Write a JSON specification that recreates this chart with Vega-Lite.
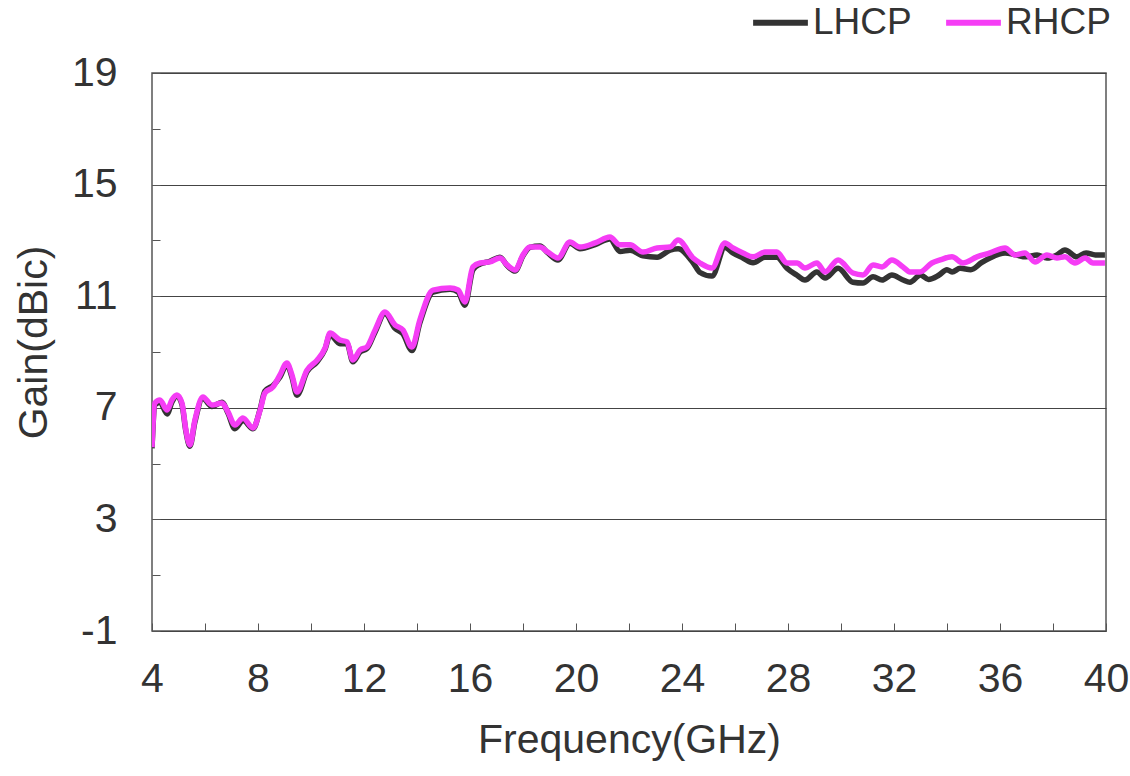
{
  "$schema": "https://vega.github.io/schema/vega-lite/v6.json",
  "width": 954,
  "height": 558,
  "autosize": {"type": "none"},
  "padding": {"left": 152, "top": 73, "right": 24, "bottom": 145},
  "background": "white",
  "config": {
    "font": "Liberation Sans",
    "view": {"stroke": "#555555", "strokeWidth": 1.5}
  },
  "data": {
    "values": [
      {"f": 4.0, "g": 5.55, "s": "LHCP"}, {"f": 4.11, "g": 7.1, "s": "LHCP"}, {"f": 4.3, "g": 7.2, "s": "LHCP"}, {"f": 4.57, "g": 6.78, "s": "LHCP"},
      {"f": 4.75, "g": 7.2, "s": "LHCP"}, {"f": 4.94, "g": 7.42, "s": "LHCP"}, {"f": 5.13, "g": 7.12, "s": "LHCP"}, {"f": 5.28, "g": 6.15, "s": "LHCP"},
      {"f": 5.43, "g": 5.62, "s": "LHCP"}, {"f": 5.62, "g": 6.5, "s": "LHCP"}, {"f": 5.92, "g": 7.33, "s": "LHCP"}, {"f": 6.26, "g": 7.05, "s": "LHCP"},
      {"f": 6.64, "g": 7.2, "s": "LHCP"}, {"f": 6.87, "g": 6.8, "s": "LHCP"}, {"f": 7.13, "g": 6.25, "s": "LHCP"}, {"f": 7.43, "g": 6.55, "s": "LHCP"},
      {"f": 7.81, "g": 6.25, "s": "LHCP"}, {"f": 8.08, "g": 6.95, "s": "LHCP"}, {"f": 8.26, "g": 7.6, "s": "LHCP"}, {"f": 8.57, "g": 7.8, "s": "LHCP"},
      {"f": 8.83, "g": 8.1, "s": "LHCP"}, {"f": 9.09, "g": 8.55, "s": "LHCP"}, {"f": 9.28, "g": 8.1, "s": "LHCP"}, {"f": 9.47, "g": 7.45, "s": "LHCP"},
      {"f": 9.85, "g": 8.3, "s": "LHCP"}, {"f": 10.23, "g": 8.65, "s": "LHCP"}, {"f": 10.53, "g": 9.1, "s": "LHCP"}, {"f": 10.72, "g": 9.62, "s": "LHCP"},
      {"f": 11.09, "g": 9.3, "s": "LHCP"}, {"f": 11.36, "g": 9.3, "s": "LHCP"}, {"f": 11.58, "g": 8.65, "s": "LHCP"}, {"f": 11.85, "g": 9.0, "s": "LHCP"},
      {"f": 12.11, "g": 9.12, "s": "LHCP"}, {"f": 12.42, "g": 9.72, "s": "LHCP"}, {"f": 12.79, "g": 10.38, "s": "LHCP"}, {"f": 13.17, "g": 9.85, "s": "LHCP"},
      {"f": 13.47, "g": 9.65, "s": "LHCP"}, {"f": 13.81, "g": 9.05, "s": "LHCP"}, {"f": 14.11, "g": 10.05, "s": "LHCP"}, {"f": 14.6, "g": 11.15, "s": "LHCP"},
      {"f": 15.25, "g": 11.25, "s": "LHCP"}, {"f": 15.55, "g": 11.15, "s": "LHCP"}, {"f": 15.81, "g": 10.68, "s": "LHCP"}, {"f": 16.11, "g": 11.95, "s": "LHCP"},
      {"f": 16.38, "g": 12.15, "s": "LHCP"}, {"f": 16.75, "g": 12.25, "s": "LHCP"}, {"f": 17.13, "g": 12.4, "s": "LHCP"}, {"f": 17.4, "g": 12.1, "s": "LHCP"},
      {"f": 17.7, "g": 11.9, "s": "LHCP"}, {"f": 18.0, "g": 12.45, "s": "LHCP"}, {"f": 18.26, "g": 12.75, "s": "LHCP"}, {"f": 18.64, "g": 12.8, "s": "LHCP"},
      {"f": 18.94, "g": 12.55, "s": "LHCP"}, {"f": 19.32, "g": 12.3, "s": "LHCP"}, {"f": 19.77, "g": 12.9, "s": "LHCP"}, {"f": 20.15, "g": 12.7, "s": "LHCP"},
      {"f": 20.72, "g": 12.85, "s": "LHCP"}, {"f": 21.28, "g": 13.05, "s": "LHCP"}, {"f": 21.66, "g": 12.6, "s": "LHCP"}, {"f": 22.04, "g": 12.65, "s": "LHCP"},
      {"f": 22.53, "g": 12.45, "s": "LHCP"}, {"f": 23.06, "g": 12.4, "s": "LHCP"}, {"f": 23.55, "g": 12.65, "s": "LHCP"}, {"f": 23.85, "g": 12.7, "s": "LHCP"},
      {"f": 24.42, "g": 12.2, "s": "LHCP"}, {"f": 24.68, "g": 11.85, "s": "LHCP"}, {"f": 25.13, "g": 11.72, "s": "LHCP"}, {"f": 25.62, "g": 12.75, "s": "LHCP"},
      {"f": 25.92, "g": 12.55, "s": "LHCP"}, {"f": 26.3, "g": 12.37, "s": "LHCP"}, {"f": 26.68, "g": 12.2, "s": "LHCP"}, {"f": 27.13, "g": 12.4, "s": "LHCP"},
      {"f": 27.58, "g": 12.4, "s": "LHCP"}, {"f": 27.96, "g": 12.0, "s": "LHCP"}, {"f": 28.34, "g": 11.75, "s": "LHCP"}, {"f": 28.64, "g": 11.58, "s": "LHCP"},
      {"f": 29.09, "g": 11.87, "s": "LHCP"}, {"f": 29.4, "g": 11.65, "s": "LHCP"}, {"f": 29.89, "g": 12.0, "s": "LHCP"}, {"f": 30.45, "g": 11.5, "s": "LHCP"},
      {"f": 30.83, "g": 11.47, "s": "LHCP"}, {"f": 31.21, "g": 11.7, "s": "LHCP"}, {"f": 31.55, "g": 11.58, "s": "LHCP"}, {"f": 31.92, "g": 11.76, "s": "LHCP"},
      {"f": 32.34, "g": 11.58, "s": "LHCP"}, {"f": 32.6, "g": 11.5, "s": "LHCP"}, {"f": 33.0, "g": 11.76, "s": "LHCP"}, {"f": 33.3, "g": 11.6, "s": "LHCP"},
      {"f": 33.7, "g": 11.76, "s": "LHCP"}, {"f": 34.0, "g": 11.95, "s": "LHCP"}, {"f": 34.19, "g": 11.87, "s": "LHCP"}, {"f": 34.5, "g": 12.0, "s": "LHCP"},
      {"f": 34.9, "g": 11.95, "s": "LHCP"}, {"f": 35.3, "g": 12.2, "s": "LHCP"}, {"f": 35.62, "g": 12.37, "s": "LHCP"}, {"f": 36.19, "g": 12.55, "s": "LHCP"},
      {"f": 36.6, "g": 12.48, "s": "LHCP"}, {"f": 36.98, "g": 12.41, "s": "LHCP"}, {"f": 37.4, "g": 12.48, "s": "LHCP"}, {"f": 37.77, "g": 12.37, "s": "LHCP"},
      {"f": 38.15, "g": 12.48, "s": "LHCP"}, {"f": 38.45, "g": 12.66, "s": "LHCP"}, {"f": 38.9, "g": 12.41, "s": "LHCP"}, {"f": 39.25, "g": 12.55, "s": "LHCP"},
      {"f": 39.6, "g": 12.48, "s": "LHCP"}, {"f": 39.96, "g": 12.48, "s": "LHCP"},

      {"f": 4.0, "g": 5.59, "s": "RHCP"}, {"f": 4.11, "g": 7.17, "s": "RHCP"}, {"f": 4.3, "g": 7.28, "s": "RHCP"}, {"f": 4.57, "g": 6.92, "s": "RHCP"},
      {"f": 4.75, "g": 7.28, "s": "RHCP"}, {"f": 4.94, "g": 7.46, "s": "RHCP"}, {"f": 5.13, "g": 7.17, "s": "RHCP"}, {"f": 5.28, "g": 6.2, "s": "RHCP"},
      {"f": 5.43, "g": 5.67, "s": "RHCP"}, {"f": 5.62, "g": 6.56, "s": "RHCP"}, {"f": 5.92, "g": 7.39, "s": "RHCP"}, {"f": 6.26, "g": 7.1, "s": "RHCP"},
      {"f": 6.64, "g": 7.17, "s": "RHCP"}, {"f": 6.87, "g": 6.85, "s": "RHCP"}, {"f": 7.13, "g": 6.38, "s": "RHCP"}, {"f": 7.43, "g": 6.63, "s": "RHCP"},
      {"f": 7.81, "g": 6.28, "s": "RHCP"}, {"f": 8.08, "g": 6.92, "s": "RHCP"}, {"f": 8.26, "g": 7.53, "s": "RHCP"}, {"f": 8.57, "g": 7.75, "s": "RHCP"},
      {"f": 8.83, "g": 8.18, "s": "RHCP"}, {"f": 9.09, "g": 8.61, "s": "RHCP"}, {"f": 9.28, "g": 8.18, "s": "RHCP"}, {"f": 9.47, "g": 7.57, "s": "RHCP"},
      {"f": 9.85, "g": 8.35, "s": "RHCP"}, {"f": 10.23, "g": 8.71, "s": "RHCP"}, {"f": 10.53, "g": 9.14, "s": "RHCP"}, {"f": 10.72, "g": 9.68, "s": "RHCP"},
      {"f": 11.09, "g": 9.43, "s": "RHCP"}, {"f": 11.36, "g": 9.36, "s": "RHCP"}, {"f": 11.58, "g": 8.71, "s": "RHCP"}, {"f": 11.85, "g": 9.07, "s": "RHCP"},
      {"f": 12.11, "g": 9.18, "s": "RHCP"}, {"f": 12.42, "g": 9.79, "s": "RHCP"}, {"f": 12.79, "g": 10.43, "s": "RHCP"}, {"f": 13.17, "g": 9.97, "s": "RHCP"},
      {"f": 13.47, "g": 9.79, "s": "RHCP"}, {"f": 13.81, "g": 9.18, "s": "RHCP"}, {"f": 14.11, "g": 10.15, "s": "RHCP"}, {"f": 14.6, "g": 11.22, "s": "RHCP"},
      {"f": 15.25, "g": 11.29, "s": "RHCP"}, {"f": 15.55, "g": 11.22, "s": "RHCP"}, {"f": 15.81, "g": 10.79, "s": "RHCP"}, {"f": 16.11, "g": 12.05, "s": "RHCP"},
      {"f": 16.38, "g": 12.19, "s": "RHCP"}, {"f": 16.75, "g": 12.23, "s": "RHCP"}, {"f": 17.13, "g": 12.37, "s": "RHCP"}, {"f": 17.4, "g": 12.12, "s": "RHCP"},
      {"f": 17.7, "g": 11.94, "s": "RHCP"}, {"f": 18.0, "g": 12.48, "s": "RHCP"}, {"f": 18.26, "g": 12.76, "s": "RHCP"}, {"f": 18.64, "g": 12.76, "s": "RHCP"},
      {"f": 18.94, "g": 12.58, "s": "RHCP"}, {"f": 19.32, "g": 12.37, "s": "RHCP"}, {"f": 19.77, "g": 12.94, "s": "RHCP"}, {"f": 20.15, "g": 12.76, "s": "RHCP"},
      {"f": 20.72, "g": 12.91, "s": "RHCP"}, {"f": 21.28, "g": 13.12, "s": "RHCP"}, {"f": 21.66, "g": 12.84, "s": "RHCP"}, {"f": 22.04, "g": 12.84, "s": "RHCP"},
      {"f": 22.53, "g": 12.58, "s": "RHCP"}, {"f": 23.06, "g": 12.73, "s": "RHCP"}, {"f": 23.55, "g": 12.76, "s": "RHCP"}, {"f": 23.85, "g": 13.01, "s": "RHCP"},
      {"f": 24.42, "g": 12.37, "s": "RHCP"}, {"f": 24.68, "g": 12.19, "s": "RHCP"}, {"f": 25.13, "g": 12.01, "s": "RHCP"}, {"f": 25.62, "g": 12.91, "s": "RHCP"},
      {"f": 25.92, "g": 12.73, "s": "RHCP"}, {"f": 26.3, "g": 12.55, "s": "RHCP"}, {"f": 26.68, "g": 12.41, "s": "RHCP"}, {"f": 27.13, "g": 12.58, "s": "RHCP"},
      {"f": 27.58, "g": 12.58, "s": "RHCP"}, {"f": 27.96, "g": 12.19, "s": "RHCP"}, {"f": 28.34, "g": 12.19, "s": "RHCP"}, {"f": 28.64, "g": 12.01, "s": "RHCP"},
      {"f": 29.09, "g": 12.19, "s": "RHCP"}, {"f": 29.4, "g": 11.87, "s": "RHCP"}, {"f": 29.89, "g": 12.3, "s": "RHCP"}, {"f": 30.45, "g": 11.83, "s": "RHCP"},
      {"f": 30.83, "g": 11.76, "s": "RHCP"}, {"f": 31.21, "g": 12.12, "s": "RHCP"}, {"f": 31.55, "g": 12.05, "s": "RHCP"}, {"f": 31.92, "g": 12.3, "s": "RHCP"},
      {"f": 32.34, "g": 12.05, "s": "RHCP"}, {"f": 32.6, "g": 11.87, "s": "RHCP"}, {"f": 32.98, "g": 11.87, "s": "RHCP"}, {"f": 33.43, "g": 12.19, "s": "RHCP"},
      {"f": 33.74, "g": 12.3, "s": "RHCP"}, {"f": 34.19, "g": 12.41, "s": "RHCP"}, {"f": 34.6, "g": 12.19, "s": "RHCP"}, {"f": 35.13, "g": 12.41, "s": "RHCP"},
      {"f": 35.62, "g": 12.55, "s": "RHCP"}, {"f": 36.19, "g": 12.73, "s": "RHCP"}, {"f": 36.57, "g": 12.48, "s": "RHCP"}, {"f": 36.94, "g": 12.55, "s": "RHCP"},
      {"f": 37.32, "g": 12.23, "s": "RHCP"}, {"f": 37.77, "g": 12.48, "s": "RHCP"}, {"f": 38.15, "g": 12.37, "s": "RHCP"}, {"f": 38.45, "g": 12.41, "s": "RHCP"},
      {"f": 38.83, "g": 12.19, "s": "RHCP"}, {"f": 39.21, "g": 12.37, "s": "RHCP"}, {"f": 39.51, "g": 12.19, "s": "RHCP"}, {"f": 39.96, "g": 12.19, "s": "RHCP"}
    ]
  },
  "mark": {"type": "line", "strokeWidth": 5.5, "interpolate": "monotone", "clip": true},
  "encoding": {
    "x": {
      "field": "f", "type": "quantitative",
      "scale": {"domain": [4, 40], "nice": false, "zero": false},
      "axis": {
        "title": "Frequency(GHz)",
        "values": [4, 6, 8, 10, 12, 14, 16, 18, 20, 22, 24, 26, 28, 30, 32, 34, 36, 38, 40],
        "labelExpr": "datum.value % 4 == 0 ? '' + datum.value : ''",
        "grid": false, "domain": false,
        "tickSize": -8, "tickColor": "#555555", "tickWidth": 1,
        "labelFontSize": 41, "labelColor": "#333333", "labelPadding": 36,
        "labelFlush": false, "labelOverlap": false,
        "titleFontSize": 41, "titleFontWeight": "normal", "titleColor": "#333333", "titlePadding": 21
      }
    },
    "y": {
      "field": "g", "type": "quantitative",
      "scale": {"domain": [-1, 19], "nice": false, "zero": false},
      "axis": {
        "title": "Gain(dBic)",
        "values": [-1, 1, 3, 5, 7, 9, 11, 13, 15, 17, 19],
        "labelExpr": "(datum.value + 1) % 4 == 0 ? '' + datum.value : ''",
        "grid": true, "gridColor": "#444444", "gridWidth": 1.2,
        "gridOpacity": {"condition": {"test": "(datum.value + 1) % 4 == 0", "value": 1}, "value": 0},
        "domain": false,
        "tickSize": -8, "tickColor": "#555555", "tickWidth": 1,
        "labelFontSize": 41, "labelColor": "#333333", "labelPadding": 43,
        "labelFlush": false, "labelOverlap": false,
        "titleFontSize": 41, "titleFontWeight": "normal", "titleColor": "#333333", "titlePadding": 16,
        "titleY": 269
      }
    },
    "color": {
      "field": "s", "type": "nominal",
      "scale": {"domain": ["LHCP", "RHCP"], "range": ["#333333", "#F53DF5"]},
      "legend": {
        "title": null, "orient": "none", "direction": "horizontal",
        "legendX": 598, "legendY": -81,
        "symbolType": "stroke", "symbolStrokeWidth": 6, "symbolSize": 3000,
        "labelFontSize": 37, "labelColor": "#333333", "labelOffset": 2,
        "columnPadding": 22, "padding": 0
      }
    }
  }
}
